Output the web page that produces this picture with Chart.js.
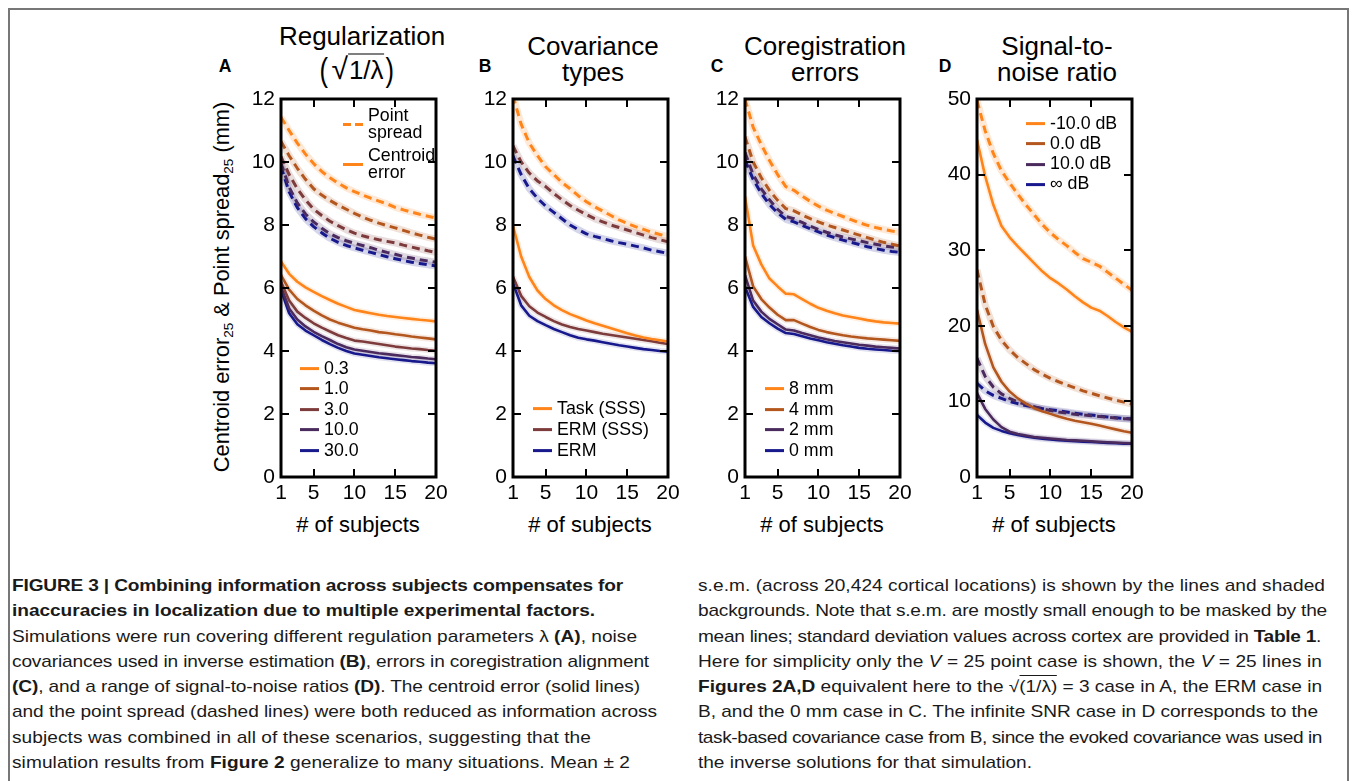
<!DOCTYPE html>
<html>
<head>
<meta charset="utf-8">
<script src="https://cdn.jsdelivr.net/npm/chart.js@4.4.1/dist/chart.umd.min.js"></script>
<style>
body{margin:0;width:1355px;height:781px;overflow:hidden;background:#fff;position:relative;
  font-family:"Liberation Sans",Arial,Helvetica,sans-serif;color:#000}
.frame{position:absolute;left:8px;top:8px;width:1337px;height:820px;border:2px solid #777;border-bottom:none}
.t{position:absolute;white-space:nowrap;line-height:1;transform:translate(-50%,-50%)}
.ttl{font-size:26px;text-align:center;line-height:26px}
.letter{font-size:17.5px;font-weight:bold}
.xt{font-size:22px}
.yt{font-size:21.8px;transform:translate(-50%,-50%) rotate(-90deg)}
sub{font-size:0.62em;vertical-align:-0.3em;line-height:0}
.plot{position:absolute}
.leg{position:absolute;font-size:17.8px;line-height:1;white-space:nowrap}
.li{position:absolute;display:flex;align-items:center;transform:translateY(-50%)}
.sw{display:inline-block;width:19px;height:3px;margin-right:5px}
.cap{position:absolute;font-size:16.4px;line-height:25.3px;white-space:nowrap;color:#1a1a1a;
  transform:scaleX(1.165);transform-origin:0 0}
.cl{display:block;width:max-content;height:25.3px}
.ov{border-top:1px solid #1a1a1a;padding-top:1px}
.sq{display:inline-flex;align-items:center}
</style>
</head>
<body>
<div class="frame"></div>

<!-- panel letters and titles -->
<div class="t letter" style="left:225px;top:67px">A</div>
<div class="t letter" style="left:485px;top:67px">B</div>
<div class="t letter" style="left:717px;top:67px">C</div>
<div class="t letter" style="left:945px;top:67px">D</div>

<div class="t ttl" style="left:362px;top:36px">Regularization</div>
<div class="t ttl sq" style="left:357px;top:68px">
  <span style="font-size:34px;font-weight:300;transform:scaleX(0.75)">(</span><span style="font-size:30px;margin-left:2px">√</span><span style="border-top:1.5px solid #000;padding:2px 1px 0 1px;font-size:26px">1/λ</span><span style="font-size:34px;font-weight:300;transform:scaleX(0.75)">)</span>
</div>
<div class="t ttl" style="left:593px;top:59px">Covariance<br>types</div>
<div class="t ttl" style="left:825px;top:59px">Coregistration<br>errors</div>
<div class="t ttl" style="left:1057px;top:59px">Signal-to-<br>noise ratio</div>

<div class="t yt" style="left:222px;top:287px">Centroid error<sub>25</sub> &amp; Point spread<sub>25</sub> (mm)</div>

<div class="t xt" style="left:358px;top:525px"># of subjects</div>
<div class="t xt" style="left:590px;top:525px"># of subjects</div>
<div class="t xt" style="left:822px;top:525px"># of subjects</div>
<div class="t xt" style="left:1054px;top:525px"># of subjects</div>

<div class="plot" style="left:231px;top:79px"><canvas id="cA" width="225" height="436"></canvas></div>
<div class="plot" style="left:463px;top:79px"><canvas id="cB" width="225" height="436"></canvas></div>
<div class="plot" style="left:695px;top:79px"><canvas id="cC" width="225" height="436"></canvas></div>
<div class="plot" style="left:927px;top:79px"><canvas id="cD" width="225" height="436"></canvas></div>

<div id="legends"></div>

<div class="cap" style="left:12px;top:573px">
<div class="cl" data-end="623"><b>FIGURE 3 | Combining information across subjects compensates for</b></div>
<div class="cl" data-end="595"><b>inaccuracies in localization due to multiple experimental factors.</b></div>
<div class="cl" data-end="637">Simulations were run covering different regulation parameters λ <b>(A)</b>, noise</div>
<div class="cl" data-end="649">covariances used in inverse estimation <b>(B)</b>, errors in coregistration alignment</div>
<div class="cl" data-end="640"><b>(C)</b>, and a range of signal-to-noise ratios <b>(D)</b>. The centroid error (solid lines)</div>
<div class="cl" data-end="657">and the point spread (dashed lines) were both reduced as information across</div>
<div class="cl" data-end="591">subjects was combined in all of these scenarios, suggesting that the</div>
<div class="cl" data-end="630">simulation results from <b>Figure 2</b> generalize to many situations. Mean ± 2</div>
</div>
<div class="cap" style="left:698px;top:573px">
<div class="cl" data-end="1325">s.e.m. (across 20,424 cortical locations) is shown by the lines and shaded</div>
<div class="cl" data-end="1327">backgrounds. Note that s.e.m. are mostly small enough to be masked by the</div>
<div class="cl" data-end="1321">mean lines; standard deviation values across cortex are provided in <b>Table 1</b>.</div>
<div class="cl" data-end="1322">Here for simplicity only the <i>V</i> = 25 point case is shown, the <i>V</i> = 25 lines in</div>
<div class="cl" data-end="1322"><b>Figures 2A,D</b> equivalent here to the √<span class="ov">(1/λ)</span> = 3 case in A, the ERM case in</div>
<div class="cl" data-end="1318">B, and the 0 mm case in C. The infinite SNR case in D corresponds to the</div>
<div class="cl" data-end="1322">task-based covariance case from B, since the evoked covariance was used in</div>
<div class="cl" data-end="1032">the inverse solutions for that simulation.</div>
</div>

<script>
// x values and ticks
const SUBJECTS = [1,2,3,4,5,6,7,8,9,10,11,12,13,14,15,16,17,18,19,20];
const X_TICKS = [1,5,10,15,20];
const MM_TICKS = [0,2,4,6,8,10,12];
const SNR_TICKS = [0,10,20,30,40,50];

// A — regularization sqrt(1/lambda)
const A_LABELS = ["0.3","1.0","3.0","10.0","30.0"];
const A_PS_03 = [11.42,11.0,10.6,10.25,9.95,9.7,9.5,9.33,9.18,9.06,8.95,8.85,8.76,8.67,8.56,8.48,8.41,8.34,8.28,8.22];
const A_PS_1  = [10.65,10.2,9.8,9.45,9.15,8.95,8.78,8.63,8.5,8.37,8.25,8.15,8.06,7.98,7.91,7.83,7.75,7.68,7.61,7.55];
const A_PS_3  = [10.17,9.6,9.15,8.8,8.5,8.3,8.12,7.98,7.85,7.74,7.66,7.59,7.53,7.48,7.43,7.36,7.3,7.24,7.18,7.13];
const A_PS_10 = [9.96,9.2,8.7,8.35,8.1,7.9,7.72,7.6,7.5,7.42,7.35,7.28,7.2,7.13,7.07,7.0,6.95,6.9,6.86,6.82];
const A_PS_30 = [9.85,9.05,8.55,8.2,7.95,7.75,7.58,7.45,7.35,7.27,7.2,7.13,7.06,6.99,6.93,6.87,6.82,6.78,6.74,6.7];
const A_CE_03 = [6.84,6.45,6.2,6.02,5.88,5.74,5.62,5.5,5.4,5.3,5.25,5.2,5.15,5.11,5.08,5.05,5.02,4.99,4.97,4.94];
const A_CE_1  = [6.41,5.95,5.65,5.45,5.28,5.13,5.0,4.9,4.82,4.74,4.69,4.65,4.6,4.57,4.53,4.5,4.46,4.43,4.4,4.37];
const A_CE_3  = [6.2,5.6,5.25,5.05,4.88,4.74,4.62,4.5,4.41,4.33,4.3,4.26,4.22,4.18,4.14,4.11,4.08,4.06,4.03,4.01];
const A_CE_10 = [6.04,5.35,5.0,4.78,4.61,4.47,4.35,4.22,4.12,4.05,4.01,3.97,3.93,3.9,3.87,3.84,3.81,3.79,3.76,3.74];
const A_CE_30 = [5.93,5.2,4.85,4.65,4.5,4.35,4.22,4.1,4.0,3.92,3.88,3.84,3.8,3.77,3.74,3.71,3.68,3.66,3.63,3.61];

// B — covariance types
const B_LABELS = ["Task (SSS)","ERM (SSS)","ERM"];
const B_PS_TASK = [12.1,11.2,10.6,10.2,9.85,9.6,9.35,9.15,8.93,8.74,8.58,8.44,8.3,8.16,8.05,7.95,7.86,7.77,7.7,7.63];
const B_PS_ERMS = [10.51,10.0,9.65,9.4,9.22,9.0,8.8,8.62,8.47,8.33,8.2,8.1,8.0,7.92,7.84,7.76,7.68,7.6,7.53,7.47];
const B_PS_ERM  = [10.19,9.6,9.15,8.85,8.6,8.4,8.2,8.0,7.85,7.72,7.64,7.57,7.5,7.44,7.39,7.33,7.27,7.2,7.15,7.1];
const B_CE_TASK = [7.97,7.0,6.35,5.92,5.65,5.45,5.3,5.17,5.07,4.97,4.88,4.8,4.72,4.64,4.56,4.49,4.43,4.38,4.34,4.3];
const B_CE_ERMS = [6.36,5.75,5.42,5.22,5.08,4.95,4.84,4.76,4.7,4.65,4.6,4.55,4.51,4.47,4.43,4.39,4.35,4.31,4.26,4.22];
const B_CE_ERM  = [6.15,5.45,5.12,4.95,4.82,4.7,4.6,4.5,4.42,4.37,4.33,4.28,4.23,4.18,4.14,4.1,4.06,4.03,4.0,3.98];

// C — coregistration errors
const C_LABELS = ["8 mm","4 mm","2 mm","0 mm"];
const C_PS_8 = [12.0,11.1,10.55,10.05,9.6,9.22,9.1,8.92,8.75,8.6,8.47,8.37,8.27,8.17,8.07,7.99,7.92,7.86,7.81,7.77];
const C_PS_4 = [10.8,10.0,9.5,9.1,8.78,8.52,8.45,8.32,8.2,8.1,8.0,7.92,7.84,7.76,7.68,7.6,7.52,7.45,7.39,7.33];
const C_PS_2 = [10.3,9.6,9.15,8.8,8.5,8.27,8.2,8.08,7.96,7.86,7.77,7.69,7.62,7.56,7.5,7.44,7.39,7.34,7.3,7.26];
const C_PS_0 = [10.06,9.45,9.0,8.65,8.38,8.18,8.1,7.99,7.88,7.78,7.68,7.6,7.52,7.45,7.38,7.31,7.25,7.2,7.16,7.13];
const C_CE_8 = [8.9,7.35,6.75,6.3,6.05,5.82,5.8,5.65,5.5,5.37,5.28,5.2,5.13,5.08,5.03,4.98,4.94,4.91,4.89,4.87];
const C_CE_4 = [7.0,6.05,5.65,5.38,5.15,4.98,4.98,4.87,4.76,4.67,4.6,4.55,4.5,4.46,4.43,4.4,4.38,4.36,4.34,4.32];
const C_CE_2 = [6.4,5.6,5.25,5.02,4.85,4.68,4.65,4.57,4.5,4.43,4.37,4.32,4.28,4.24,4.2,4.17,4.14,4.12,4.1,4.08];
const C_CE_0 = [6.04,5.4,5.08,4.88,4.71,4.57,4.54,4.47,4.4,4.34,4.28,4.23,4.18,4.14,4.1,4.07,4.05,4.03,4.01,4.0];

// D — signal-to-noise ratio
const D_LABELS = ["-10.0 dB","0.0 dB","10.0 dB","∞ dB"];
const D_PS_M10 = [49.8,45.8,42.8,40.5,38.9,37.4,36.0,34.7,33.4,32.3,31.4,30.6,29.7,28.9,28.4,27.9,27.1,26.3,25.5,24.7];
const D_PS_0   = [27.4,22.8,19.9,18.1,16.8,15.8,15.0,14.2,13.6,13.05,12.6,12.2,11.8,11.4,11.07,10.75,10.45,10.15,9.9,9.66];
const D_PS_10  = [15.7,13.3,11.9,11.0,10.4,9.9,9.6,9.3,9.0,8.8,8.6,8.45,8.3,8.2,8.1,8.0,7.9,7.8,7.72,7.65];
const D_PS_INF = [12.4,11.4,10.8,10.4,10.0,9.7,9.45,9.25,9.05,8.9,8.75,8.6,8.45,8.3,8.2,8.05,7.95,7.85,7.75,7.67];
const D_CE_M10 = [44.6,39.8,36.0,33.2,31.7,30.5,29.4,28.3,27.2,26.3,25.6,24.8,23.9,23.1,22.4,22.0,21.3,20.5,19.8,19.2];
const D_CE_0   = [22.1,17.6,14.5,12.6,11.3,10.4,9.7,9.1,8.7,8.35,8.0,7.7,7.45,7.25,7.05,6.8,6.55,6.3,6.05,5.85];
const D_CE_10  = [11.1,9.0,7.6,6.6,6.0,5.7,5.5,5.3,5.2,5.1,5.0,4.9,4.85,4.8,4.72,4.65,4.6,4.55,4.5,4.45];
const D_CE_INF = [8.2,7.2,6.5,6.1,5.8,5.55,5.35,5.2,5.05,4.97,4.88,4.8,4.74,4.68,4.62,4.56,4.5,4.46,4.42,4.4];

// colours
const ORANGE = "#ff8419", RUST = "#b3571f", MAROON = "#7e3b3b", PURPLE = "#4b2a5e", NAVY = "#17198c";
const FONT = "'Liberation Sans', Arial, Helvetica, sans-serif";

function halo(hex, a){
  const n = parseInt(hex.slice(1),16);
  return `rgba(${(n>>16)&255},${(n>>8)&255},${n&255},${a})`;
}

// inward ticks on all four sides + heavy box
const framePlugin = {
  id:"frame",
  afterDatasetsDraw(chart){
    const {ctx, chartArea:{left,right,top,bottom}, scales:{x,y}} = chart;
    ctx.save();
    ctx.strokeStyle="#000";
    ctx.lineWidth=2;
    ctx.beginPath();
    x.ticks.forEach(t=>{
      if (t.value<=x.min || t.value>=x.max) return;
      const px = Math.round(x.getPixelForValue(t.value));
      ctx.moveTo(px,bottom); ctx.lineTo(px,bottom-8);
      ctx.moveTo(px,top); ctx.lineTo(px,top+8);
    });
    y.ticks.forEach(t=>{
      if (t.value<=y.min || t.value>=y.max) return;
      const py = Math.round(y.getPixelForValue(t.value));
      ctx.moveTo(left,py); ctx.lineTo(left+8,py);
      ctx.moveTo(right,py); ctx.lineTo(right-8,py);
    });
    ctx.stroke();
    ctx.lineWidth=3;
    ctx.strokeRect(left,top,right-left,bottom-top);
    ctx.restore();
  }
};

function buildChart(id, series, yMax, yTicks){
  const datasets=[];
  series.forEach(s=>{
    const pts = SUBJECTS.map((n,i)=>({x:n, y:s.data[i]}));
    datasets.push({data:pts, borderColor:halo(s.color, s.dashed?0.18:0.13), borderWidth:s.dashed?7:6,
      pointRadius:0, tension:0, order:10, borderJoinStyle:"round"});
    datasets.push({data:pts, borderColor:s.color, borderWidth:s.dashed?3:2.6, borderDash:s.dashed?[8,5]:[],
      pointRadius:0, tension:0, order:s.dashed?2:1, borderJoinStyle:"round"});
  });
  const tickFont = {family:FONT, size:21};
  return new Chart(document.getElementById(id), {
    type:"line",
    data:{datasets},
    options:{
      responsive:false, animation:false, devicePixelRatio:1,
      layout:{padding:{left:0, top:20, right:20, bottom:0}},
      plugins:{legend:{display:false}, tooltip:{enabled:false}},
      scales:{
        x:{type:"linear", min:1, max:20,
          afterBuildTicks:s=>{ s.ticks = X_TICKS.map(v=>({value:v})); },
          afterFit:s=>{ s.height=38; },
          grid:{display:false, drawTicks:false}, border:{display:false},
          ticks:{font:tickFont, color:"#000", padding:4, maxRotation:0, autoSkip:false}},
        y:{type:"linear", min:0, max:yMax,
          afterBuildTicks:s=>{ s.ticks = yTicks.map(v=>({value:v})); },
          afterFit:s=>{ s.width=50; },
          grid:{display:false, drawTicks:false}, border:{display:false},
          ticks:{font:tickFont, color:"#000", padding:6}}
      }
    },
    plugins:[framePlugin]
  });
}

buildChart("cA", [
  {data:A_PS_03, color:ORANGE, dashed:true}, {data:A_PS_1, color:RUST, dashed:true},
  {data:A_PS_3, color:MAROON, dashed:true}, {data:A_PS_10, color:PURPLE, dashed:true},
  {data:A_PS_30, color:NAVY, dashed:true},
  {data:A_CE_03, color:ORANGE}, {data:A_CE_1, color:RUST}, {data:A_CE_3, color:MAROON},
  {data:A_CE_10, color:PURPLE}, {data:A_CE_30, color:NAVY}
], 12, MM_TICKS);

buildChart("cB", [
  {data:B_PS_TASK, color:ORANGE, dashed:true}, {data:B_PS_ERMS, color:MAROON, dashed:true},
  {data:B_PS_ERM, color:NAVY, dashed:true},
  {data:B_CE_TASK, color:ORANGE}, {data:B_CE_ERMS, color:MAROON}, {data:B_CE_ERM, color:NAVY}
], 12, MM_TICKS);

buildChart("cC", [
  {data:C_PS_8, color:ORANGE, dashed:true}, {data:C_PS_4, color:RUST, dashed:true},
  {data:C_PS_2, color:PURPLE, dashed:true}, {data:C_PS_0, color:NAVY, dashed:true},
  {data:C_CE_8, color:ORANGE}, {data:C_CE_4, color:RUST}, {data:C_CE_2, color:PURPLE}, {data:C_CE_0, color:NAVY}
], 12, MM_TICKS);

buildChart("cD", [
  {data:D_PS_M10, color:ORANGE, dashed:true}, {data:D_PS_0, color:RUST, dashed:true},
  {data:D_PS_10, color:PURPLE, dashed:true}, {data:D_PS_INF, color:NAVY, dashed:true},
  {data:D_CE_M10, color:ORANGE}, {data:D_CE_0, color:RUST}, {data:D_CE_10, color:PURPLE}, {data:D_CE_INF, color:NAVY}
], 50, SNR_TICKS);

// legends (html text placed inside the plot boxes)
function legend(x, ys, labels, colors){
  const root = document.getElementById("legends");
  labels.forEach((lab,i)=>{
    const el = document.createElement("div");
    el.className="leg li";
    el.style.left = x+"px"; el.style.top = ys[i]+"px";
    el.innerHTML = `<span class="sw" style="background:${colors[i]}"></span><span>${lab}</span>`;
    root.appendChild(el);
  });
}
legend(300, [368.5,389,409.5,430,450.5], A_LABELS, [ORANGE,RUST,MAROON,PURPLE,NAVY]);
legend(533, [408.5,430,450.5], B_LABELS, [ORANGE,MAROON,NAVY]);
legend(765, [389,410,430,451], C_LABELS, [ORANGE,RUST,PURPLE,NAVY]);
legend(1026, [123.5,144,164.3,184.3], D_LABELS, [ORANGE,RUST,PURPLE,NAVY]);

// style key in panel A
(function(){
  const root = document.getElementById("legends");
  const dash = `repeating-linear-gradient(90deg, ${ORANGE} 0 8px, transparent 8px 12px)`;
  [[124,"Point<br>spread",dash],[164,"Centroid<br>error",ORANGE]].forEach(([y,txt,bg])=>{
    const el=document.createElement("div");
    el.className="leg li";
    el.style.left="343px"; el.style.top=y+"px"; el.style.lineHeight="17px";
    el.innerHTML=`<span class="sw" style="width:20px;background:${bg}"></span><span>${txt}</span>`;
    root.appendChild(el);
  });
})();

// caption: fit each line to the reference line length with a small letter-spacing tweak
document.querySelectorAll(".cl").forEach(el=>{
  const end = +el.dataset.end;
  const r = el.getBoundingClientRect();
  const chars = el.textContent.trim().length;
  el.style.letterSpacing = ((end - r.right) / 1.165 / chars).toFixed(3) + "px";
});
</script>
</body>
</html>
